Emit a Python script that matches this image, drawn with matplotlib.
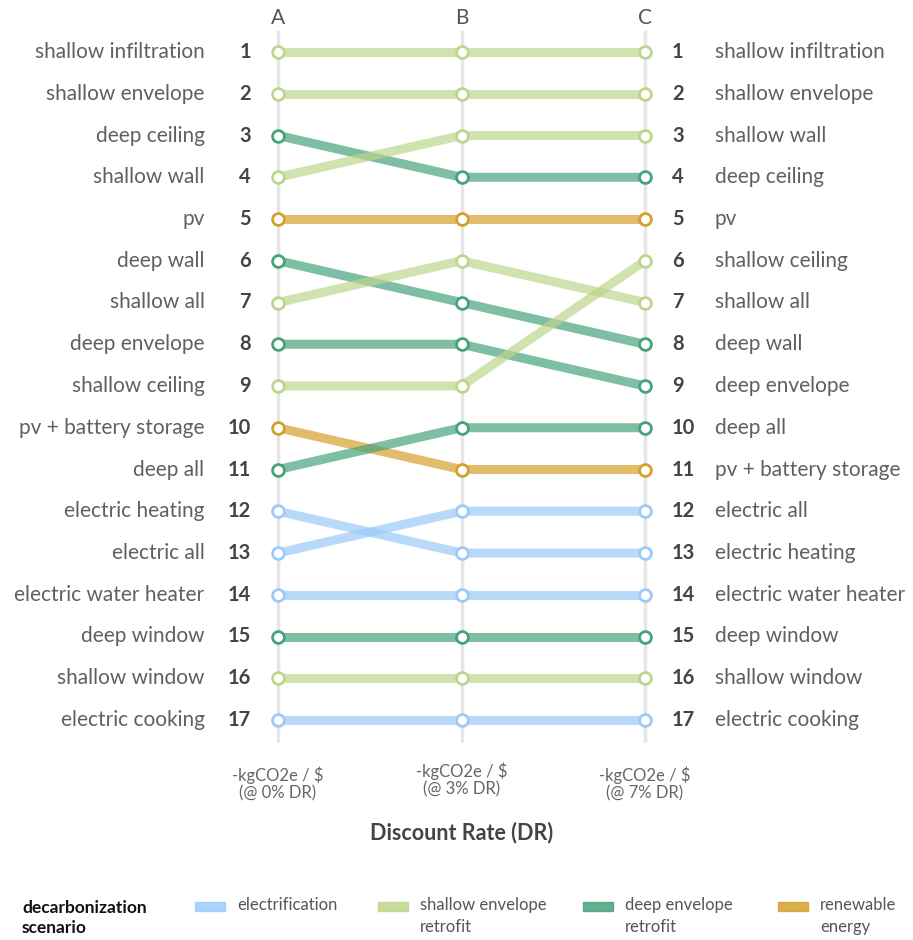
import matplotlib.pyplot as plt
from matplotlib.patches import Rectangle

plt.rcParams['font.family'] = ['Lato', 'DejaVu Sans']

# rankings under each discount rate
columns = ['A', 'B', 'C']
col_labels = ['-kgCO2e / $\n(@ 0% DR)', '-kgCO2e / $\n(@ 3% DR)', '-kgCO2e / $\n(@ 7% DR)']
measures = ['shallow infiltration', 'shallow envelope', 'deep ceiling', 'shallow wall', 'pv',
            'deep wall', 'shallow all', 'deep envelope', 'shallow ceiling', 'pv + battery storage',
            'deep all', 'electric heating', 'electric all', 'electric water heater', 'deep window',
            'shallow window', 'electric cooking']
scenario = ['shallow', 'shallow', 'deep', 'shallow', 'renew',
            'deep', 'shallow', 'deep', 'shallow', 'renew',
            'deep', 'elec', 'elec', 'elec', 'deep',
            'shallow', 'elec']
rank_a = [1, 2, 3, 4, 5, 6, 7, 8, 9, 10, 11, 12, 13, 14, 15, 16, 17]
rank_b = [1, 2, 4, 3, 5, 7, 6, 8, 9, 11, 10, 13, 12, 14, 15, 16, 17]
rank_c = [1, 2, 4, 3, 5, 8, 7, 9, 6, 11, 10, 13, 12, 14, 15, 16, 17]

colors = {'elec': '#9ccafa', 'shallow': '#bdd68c', 'deep': '#47a37c', 'renew': '#d5a02c'}
legend_names = {'elec': 'electrification', 'shallow': 'shallow envelope\nretrofit',
                'deep': 'deep envelope\nretrofit', 'renew': 'renewable\nenergy'}

W, H = 913, 940
fig = plt.figure(figsize=(W / 100, H / 100), dpi=100)
ax = fig.add_axes([0, 0, 1, 1])
# map column index / rank onto the figure
x0, dx = 278, 183.5
y0, dy = 52, 41.75
ax.set_xlim(-x0 / dx, (W - x0) / dx)
ax.set_ylim(1 + (H - y0) / dy, 1 - y0 / dy)
ax.axis('off')

xs = list(range(len(columns)))
for x in xs:
    ax.plot([x, x], [0.47, 17.53], color='#e6e6e6', lw=2.5, zorder=0, solid_capstyle='butt')
    ax.text(x, 0.19, columns[x], ha='center', va='center', fontsize=15, color='#555555')

for i, m in enumerate(measures):
    c = colors[scenario[i]]
    ranks = [rank_a[i], rank_b[i], rank_c[i]]
    ax.plot(xs, ranks, color=c, lw=6.5, alpha=0.7, solid_capstyle='butt', zorder=2)
    ax.plot(xs, ranks, 'o', ms=8.5, mfc='white', mec=c, mew=2, zorder=3)

n = len(measures)
for r in range(1, n + 1):
    ax.text(-0.147, r, str(r), ha='right', va='center', fontsize=14.5, fontweight='bold', color='#444444')
    ax.text(2.147, r, str(r), ha='left', va='center', fontsize=14.5, fontweight='bold', color='#444444')

for i, m in enumerate(measures):
    ax.text(-0.40, rank_a[i], m, ha='right', va='center', fontsize=15, color='#606060')
    ax.text(2 + 0.38, rank_c[i], m, ha='left', va='center', fontsize=15, color='#606060')

label_y = [18.53, 18.44, 18.53]
for x in xs:
    ax.text(x, label_y[x], col_labels[x], ha='center', va='center', fontsize=12,
            color='#666666', linespacing=1.15)
ax.text(1, 19.7, 'Discount Rate (DR)', ha='center', va='center', fontsize=15.5,
        fontweight='bold', color='#444444')

# legend
fig.text(22 / W, 1 - 918 / H, 'decarbonization\nscenario', ha='left', va='center',
         fontsize=12.5, fontweight='bold', color='#111111', linespacing=1.35)
leg_x = [195, 378, 583, 778]
for k, key in enumerate(['elec', 'shallow', 'deep', 'renew']):
    fig.patches.append(Rectangle((leg_x[k] / W, 1 - 911 / H), 30 / W, 9 / H,
                                 transform=fig.transFigure, color=colors[key], alpha=0.85))
    fig.text((leg_x[k] + 42) / W, 1 - 897 / H, legend_names[key], ha='left', va='top',
             fontsize=12, color='#555555', linespacing=1.45)

fig.savefig('out.png', dpi=100, facecolor='white')
